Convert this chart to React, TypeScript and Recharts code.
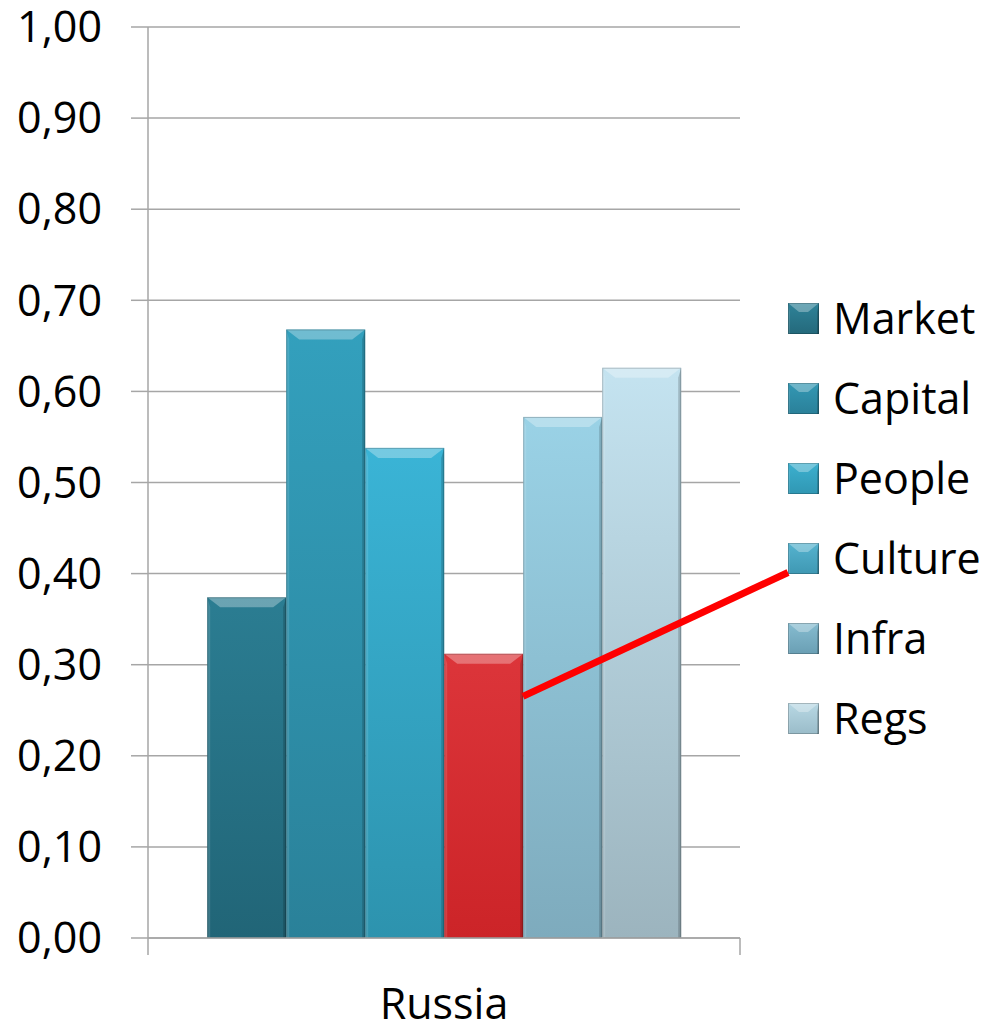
import React from 'react';
import {
  BarChart,
  Bar,
  XAxis,
  YAxis,
  CartesianGrid,
  Customized,
} from 'recharts';

const categories = ['Russia'];
const seriesNames = ['Market', 'Capital', 'People', 'Culture', 'Infra', 'Regs'];
const seriesValues = [0.374, 0.668, 0.538, 0.312, 0.572, 0.626];
const yTicks = [0, 0.1, 0.2, 0.3, 0.4, 0.5, 0.6, 0.7, 0.8, 0.9, 1.0];

// bar fill: [top, bottom]
const barColors: [string, string][] = [
  ['#2b7d92', '#216577'],
  ['#33a0bd', '#2a8199'],
  ['#3ab4d6', '#2d93ae'],
  ['#dc353a', '#cc2428'],
  ['#9ad2e6', '#7eabbd'],
  ['#c4e3f0', '#9cb4be'],
];
const legendColors: [string, string][] = [
  ['#2f8399', '#24697b'],
  ['#3398b4', '#2a8099'],
  ['#3cb0cf', '#3097b3'],
  ['#55b3cf', '#3f98b3'],
  ['#86bcd0', '#6a9fb4'],
  ['#b8d8e4', '#9abcc9'],
];

const data = categories.map((name) => {
  const row: Record<string, string | number> = { name };
  seriesNames.forEach((s, i) => {
    row[s] = seriesValues[i];
  });
  return row;
});

const W = 1000;
const H = 1026;
const M = { top: 27, right: 260, bottom: 0, left: 0 };
const X_AXIS_H = 88;
const Y_AXIS_W = 148;
const plotLeft = M.left + Y_AXIS_W;
const plotRight = W - M.right;
const plotTop = M.top;
const plotBottom = H - M.bottom - X_AXIS_H;
const FONT = '"Open Sans", sans-serif';
const GRID = '#a6a6a6';
const LEGEND_LEFT = 788;
const LEGEND_TOP = 278;
const LEGEND_ROW = 80;
const MARKER = 31;

function bevel(
  key: string,
  x: number,
  y: number,
  w: number,
  h: number,
  c: [string, string],
  topB = 10,
  sideB = 3,
) {
  if (h <= 0) return null;
  const gid = `grad-${key}`;
  const tb = Math.min(topB, h / 2);
  return (
    <g key={key}>
      <defs>
        <linearGradient id={gid} x1="0" y1="0" x2="0" y2="1">
          <stop offset="0%" stopColor={c[0]} />
          <stop offset="100%" stopColor={c[1]} />
        </linearGradient>
      </defs>
      <rect x={x} y={y} width={w} height={h} fill={`url(#${gid})`} />
      <polygon
        points={`${x},${y} ${x + w},${y} ${x + w - sideB - tb},${y + tb} ${x + sideB + tb},${y + tb}`}
        fill="#ffffff"
        fillOpacity={0.3}
      />
      <polygon
        points={`${x},${y} ${x + sideB},${y + tb} ${x + sideB},${y + h} ${x},${y + h}`}
        fill="#ffffff"
        fillOpacity={0.12}
      />
      <polygon
        points={`${x + w},${y} ${x + w},${y + h} ${x + w - sideB},${y + h} ${x + w - sideB},${y + tb}`}
        fill="#000000"
        fillOpacity={0.18}
      />
      <rect
        x={x + 0.5}
        y={y + 0.5}
        width={w - 1}
        height={h - 1}
        fill="none"
        stroke="#000"
        strokeOpacity={0.2}
      />
    </g>
  );
}

const makeShape = (i: number) => (props: any) =>
  bevel(`bar-${i}`, props.x, props.y, props.width, props.height, barColors[i]);

const fmt = (v: number) => v.toFixed(2).replace('.', ',');

// axis end ticks below the baseline
function AxisEnds() {
  return (
    <g>
      <line x1={plotLeft} y1={plotBottom} x2={plotLeft} y2={plotBottom + 17} stroke={GRID} strokeWidth={1.5} />
      <line x1={plotRight} y1={plotBottom} x2={plotRight} y2={plotBottom + 17} stroke={GRID} strokeWidth={1.5} />
    </g>
  );
}

// red pointer from the Culture bar to its legend entry
function Pointer() {
  const band = plotRight - plotLeft;
  const gap = band * 0.1;
  const bw = (band - 2 * gap) / seriesNames.length;
  const idx = seriesNames.indexOf('Culture');
  const x1 = plotLeft + gap + bw * (idx + 1);
  const y1 = plotBottom - (plotBottom - plotTop) * (seriesValues[idx] * 0.85);
  const x2 = LEGEND_LEFT;
  const y2 = LEGEND_TOP + idx * LEGEND_ROW + LEGEND_ROW / 2 + MARKER / 2 - 1;
  return (
    <svg
      width={W}
      height={H}
      style={{ position: 'absolute', left: 0, top: 0, pointerEvents: 'none' }}
    >
      <line x1={x1} y1={y1} x2={x2} y2={y2} stroke="#ff0000" strokeWidth={7} />
    </svg>
  );
}

export default function App() {
  return (
    <div style={{ position: 'absolute', left: 0, top: 0, width: W, height: H, background: '#fff' }}>
      <BarChart
        width={W}
        height={H}
        data={data}
        margin={M}
        barCategoryGap="10%"
        barGap={0}
      >
        <CartesianGrid horizontal vertical={false} stroke={GRID} strokeWidth={1.5} />
        <XAxis
          dataKey="name"
          axisLine={{ stroke: GRID, strokeWidth: 1.5 }}
          tickLine={false}
          tickSize={0}
          tickMargin={50}
          height={X_AXIS_H}
          tick={{ fontSize: 43, fill: '#000', fontFamily: FONT }}
        />
        <YAxis
          domain={[0, 1]}
          ticks={yTicks}
          interval={0}
          width={Y_AXIS_W}
          tickFormatter={fmt}
          axisLine={{ stroke: GRID, strokeWidth: 1.5 }}
          tickLine={{ stroke: GRID, strokeWidth: 1.5 }}
          tickSize={17}
          tickMargin={29}
          tick={{ fontSize: 43, fill: '#000', fontFamily: FONT }}
        />
        {seriesNames.map((s, i) => (
          <Bar
            key={s}
            dataKey={s}
            name={s}
            fill={barColors[i][0]}
            shape={makeShape(i)}
            isAnimationActive={false}
          />
        ))}
        <Customized component={<AxisEnds />} />
      </BarChart>
      <div style={{ position: 'absolute', left: LEGEND_LEFT, top: LEGEND_TOP }}>
        {seriesNames.map((s, i) => (
          <div key={s} style={{ display: 'flex', alignItems: 'center', height: LEGEND_ROW }}>
            <svg width={MARKER} height={MARKER} style={{ marginRight: 14 }}>
              {bevel(`leg-${i}`, 0, 0, MARKER, MARKER, legendColors[i], 9, 2)}
            </svg>
            <span style={{ fontFamily: FONT, fontSize: 43, color: '#000', lineHeight: `${LEGEND_ROW}px` }}>{s}</span>
          </div>
        ))}
      </div>
      <Pointer />
    </div>
  );
}
